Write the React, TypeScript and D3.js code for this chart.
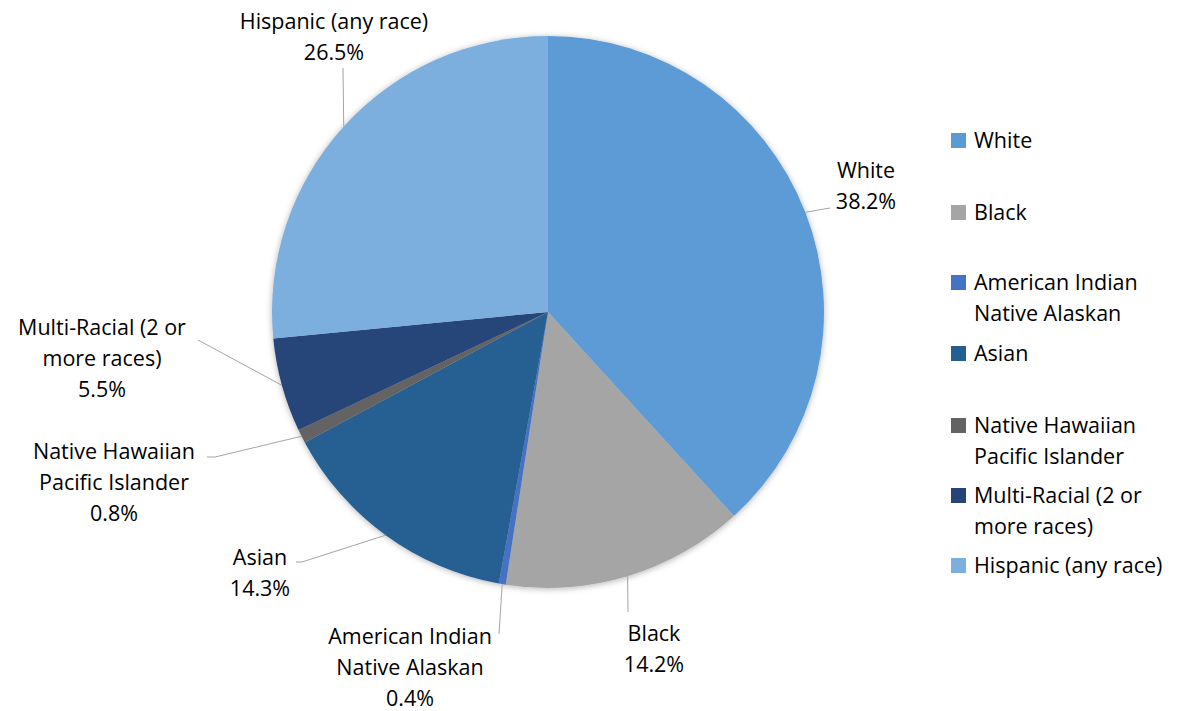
import React from "react";
import * as d3 from "d3";

const categories = [
  "White",
  "Black",
  "American Indian Native Alaskan",
  "Asian",
  "Native Hawaiian Pacific Islander",
  "Multi-Racial (2 or more races)",
  "Hispanic (any race)",
];
const values = [38.2, 14.2, 0.4, 14.3, 0.8, 5.5, 26.5];
const labelLines = [
  ["White"],
  ["Black"],
  ["American Indian", "Native Alaskan"],
  ["Asian"],
  ["Native Hawaiian", "Pacific Islander"],
  ["Multi-Racial (2 or", "more races)"],
  ["Hispanic (any race)"],
];
const colors = ["#5B9BD5", "#A5A5A5", "#4472C4", "#255E91", "#636363", "#264478", "#7CAFDD"];

// layout (positions of data labels, leader line end points)
const labelLayout = [
  { x: 866, y: 178, end: [[830, 208]] },
  { x: 654, y: 641, end: [[628, 612]] },
  { x: 410, y: 644, end: [[499, 634]] },
  { x: 260, y: 565, end: [[302, 562], [296, 562]] },
  { x: 114, y: 459, end: [[215, 457], [207, 457]] },
  { x: 102, y: 335, end: [[198, 340]] },
  { x: 334, y: 29, end: [[343, 68]] },
];
const legendLayout = [148, 220, 290, 361, 433, 503, 573];

const W = 1182;
const H = 711;
const cx = 548;
const cy = 312;
const R = 276;
const FONT = "'Open Sans', Lato, sans-serif";
const FS = 21.5;

export default function App() {
  const pie = d3.pie<number>().sort(null).value((d) => d)(values);
  const arc = d3.arc<d3.PieArcDatum<number>>().innerRadius(0).outerRadius(R);
  const lh = 31;
  return (
    <svg width={W} height={H} style={{ position: "absolute", left: 0, top: 0, background: "#fff" }}>
      <defs>
        <filter id="sh" x="-10%" y="-10%" width="120%" height="120%">
          <feDropShadow dx="0" dy="1" stdDeviation="3" floodColor="#000" floodOpacity="0.3" />
        </filter>
      </defs>
      <g transform={`translate(${cx},${cy})`} filter="url(#sh)">
        {pie.map((p, i) => (
          <path key={i} d={arc(p) || ""} fill={colors[i]} />
        ))}
      </g>
      {pie.map((p, i) => {
        const mid = (p.startAngle + p.endAngle) / 2;
        const sx = cx + R * Math.sin(mid);
        const sy = cy - R * Math.cos(mid);
        const pts = [[sx, sy], ...labelLayout[i].end];
        const line = d3.line()(pts as [number, number][]);
        return <path key={"l" + i} d={line || ""} fill="none" stroke="#A5A5A5" strokeWidth={1} />;
      })}
      {labelLines.map((lines, i) => {
        const L = labelLayout[i];
        const all = [...lines, values[i].toFixed(1) + "%"];
        return (
          <text key={"t" + i} x={L.x} y={L.y} textAnchor="middle" fontFamily={FONT} fontSize={FS} fill="#000">
            {all.map((s, j) => (
              <tspan key={j} x={L.x} dy={j === 0 ? 0 : lh}>
                {s}
              </tspan>
            ))}
          </text>
        );
      })}
      {categories.map((c, i) => {
        const by = legendLayout[i];
        return (
          <g key={"lg" + i}>
            <rect x={951} y={by - 15} width={15} height={15} fill={colors[i]} />
            <text x={974} y={by} fontFamily={FONT} fontSize={FS} fill="#000">
              {labelLines[i].map((s, j) => (
                <tspan key={j} x={974} dy={j === 0 ? 0 : lh}>
                  {s}
                </tspan>
              ))}
            </text>
          </g>
        );
      })}
    </svg>
  );
}
